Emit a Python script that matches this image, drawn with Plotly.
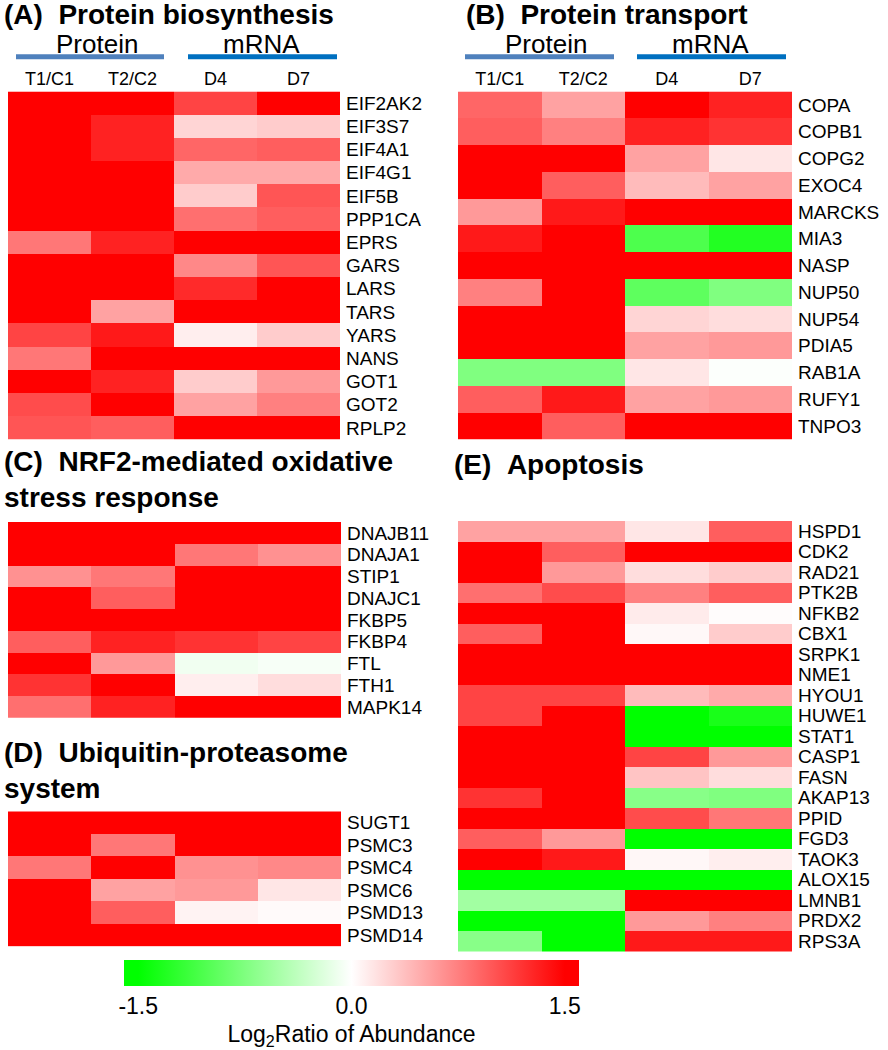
import plotly.graph_objects as go

# columns shared by every panel
cols = ["T1/C1", "T2/C2", "D4", "D7"]

# (A) Protein biosynthesis
genes_a = ["EIF2AK2", "EIF3S7", "EIF4A1", "EIF4G1", "EIF5B", "PPP1CA", "EPRS", "GARS",
           "LARS", "TARS", "YARS", "NANS", "GOT1", "GOT2", "RPLP2"]
vals_a = [
    [1.5, 1.5, 1.1, 1.5],
    [1.5, 1.3, 0.25, 0.3],
    [1.5, 1.3, 0.9, 0.95],
    [1.5, 1.5, 0.5, 0.5],
    [1.5, 1.5, 0.3, 1.0],
    [1.5, 1.5, 0.85, 0.95],
    [0.8, 1.3, 1.5, 1.5],
    [1.5, 1.5, 0.7, 1.0],
    [1.5, 1.5, 1.25, 1.5],
    [1.5, 0.55, 1.5, 1.5],
    [1.1, 1.35, 0.1, 0.3],
    [0.8, 1.5, 1.5, 1.5],
    [1.5, 1.3, 0.3, 0.6],
    [1.05, 1.5, 0.55, 0.75],
    [1.0, 0.95, 1.5, 1.5],
]

# (B) Protein transport
genes_b = ["COPA", "COPB1", "COPG2", "EXOC4", "MARCKS", "MIA3", "NASP", "NUP50", "NUP54",
           "PDIA5", "RAB1A", "RUFY1", "TNPO3"]
vals_b = [
    [0.9, 0.55, 1.5, 1.3],
    [0.95, 0.75, 1.3, 1.2],
    [1.5, 1.5, 0.55, 0.15],
    [1.5, 0.95, 0.4, 0.55],
    [0.6, 1.35, 1.5, 1.5],
    [1.35, 1.5, -1.05, -1.3],
    [1.5, 1.5, 1.5, 1.5],
    [0.75, 1.5, -0.95, -0.75],
    [1.5, 1.5, 0.25, 0.2],
    [1.5, 1.5, 0.55, 0.6],
    [-0.75, -0.75, 0.15, -0.02],
    [0.95, 1.35, 0.55, 0.6],
    [1.5, 0.95, 1.5, 1.5],
]

# (C) NRF2-mediated oxidative stress response
genes_c = ["DNAJB11", "DNAJA1", "STIP1", "DNAJC1", "FKBP5", "FKBP4", "FTL", "FTH1", "MAPK14"]
vals_c = [
    [1.5, 1.5, 1.5, 1.5],
    [1.5, 1.5, 0.8, 0.65],
    [0.65, 0.8, 1.5, 1.5],
    [1.5, 0.95, 1.5, 1.5],
    [1.5, 1.5, 1.5, 1.5],
    [0.95, 1.3, 1.2, 1.1],
    [1.5, 0.6, -0.08, -0.05],
    [1.2, 1.5, 0.1, 0.2],
    [0.85, 1.3, 1.5, 1.5],
]

# (D) Ubiquitin-proteasome system
genes_d = ["SUGT1", "PSMC3", "PSMC4", "PSMC6", "PSMD13", "PSMD14"]
vals_d = [
    [1.5, 1.5, 1.5, 1.5],
    [1.5, 0.8, 1.5, 1.5],
    [0.8, 1.5, 0.65, 0.7],
    [1.5, 0.55, 0.6, 0.15],
    [1.5, 0.95, 0.07, 0.03],
    [1.5, 1.5, 1.5, 1.5],
]

# (E) Apoptosis
genes_e = ["HSPD1", "CDK2", "RAD21", "PTK2B", "NFKB2", "CBX1", "SRPK1", "NME1", "HYOU1",
           "HUWE1", "STAT1", "CASP1", "FASN", "AKAP13", "PPID", "FGD3", "TAOK3", "ALOX15",
           "LMNB1", "PRDX2", "RPS3A"]
vals_e = [
    [0.55, 0.55, 0.15, 0.95],
    [1.5, 0.95, 1.5, 1.5],
    [1.5, 0.6, 0.2, 0.3],
    [0.85, 1.05, 0.75, 0.95],
    [1.5, 1.5, 0.12, 0.02],
    [0.95, 1.5, 0.04, 0.3],
    [1.5, 1.5, 1.5, 1.5],
    [1.5, 1.5, 1.5, 1.5],
    [1.1, 1.1, 0.4, 0.5],
    [1.1, 1.5, -1.5, -1.35],
    [1.5, 1.5, -1.5, -1.5],
    [1.5, 1.5, 1.1, 0.6],
    [1.5, 1.5, 0.35, 0.2],
    [1.2, 1.5, -0.7, -0.75],
    [1.5, 1.5, 1.05, 0.8],
    [0.95, 0.6, -1.5, -1.5],
    [1.5, 1.35, 0.05, 0.1],
    [-1.5, -1.5, -1.5, -1.5],
    [-0.55, -0.55, 1.5, 1.5],
    [-1.5, -1.5, 0.6, 0.75],
    [-0.7, -1.5, 1.35, 1.35],
]

cbar_ticks = [-1.5, 0.0, 1.5]
cbar_ticktext = ["-1.5", "0.0", "1.5"]

W, H = 888, 1050
FONT = "Liberation Sans, Arial, sans-serif"


def fx(px):
    return px / W


def fy(py):
    return 1 - py / H


# pixel boxes (left, top, right, bottom) for each heatmap
panels = [
    dict(genes=genes_a, z=vals_a, box=(8, 92, 340, 442), top=True),
    dict(genes=genes_b, z=vals_b, box=(458, 92, 792, 442), top=True),
    dict(genes=genes_c, z=vals_c, box=(8, 525, 341, 722), top=False),
    dict(genes=genes_d, z=vals_d, box=(8, 816, 341, 952), top=False),
    dict(genes=genes_e, z=vals_e, box=(458, 524, 792, 957), top=False),
]

# saturate at +-1.5 but leave a bit of room on the bar ends
zr = 1.6
edge = (zr - 1.5) / (2 * zr)
cscale = [
    [0.0, "rgb(0,255,0)"],
    [edge, "rgb(0,255,0)"],
    [0.5, "rgb(255,255,255)"],
    [1 - edge, "rgb(255,0,0)"],
    [1.0, "rgb(255,0,0)"],
]

fig = go.Figure()

for i, p in enumerate(panels, start=1):
    x0, y0, x1, y1 = p["box"]
    sfx = "" if i == 1 else str(i)
    fig.add_trace(go.Heatmap(
        z=p["z"], x=cols, y=p["genes"],
        coloraxis="coloraxis",
        xaxis="x" + sfx, yaxis="y" + sfx,
    ))
    fig.update_layout({
        "xaxis" + sfx: dict(
            domain=[fx(x0), fx(x1)], anchor="y" + sfx, side="top",
            showticklabels=p["top"], ticks="", showgrid=False, zeroline=False,
            tickmode="array", tickvals=cols, ticktext=cols,
            tickfont=dict(size=18, color="black", family=FONT),
            ticklabelstandoff=2,
        ),
        "yaxis" + sfx: dict(
            domain=[fy(y1), fy(y0)], anchor="x" + sfx, side="right",
            autorange="reversed", ticks="", showgrid=False, zeroline=False,
            tickmode="array", tickvals=p["genes"], ticktext=p["genes"],
            tickfont=dict(size=19, color="black", family=FONT),
            ticklabelstandoff=5,
        ),
    })

# panel titles
titles = [
    ("(A)\u00a0\u00a0Protein biosynthesis", 3, 15),
    ("(B)\u00a0\u00a0Protein transport", 465, 15),
    ("(C)\u00a0\u00a0NRF2-mediated oxidative<br>stress response", 3, 482),
    ("(D)\u00a0\u00a0Ubiquitin-proteasome<br>system", 3, 775),
    ("(E)\u00a0\u00a0Apoptosis", 453, 467),
]
for txt, x, y in titles:
    fig.add_annotation(
        text="<b>" + txt + "</b>", xref="paper", yref="paper",
        x=fx(x), y=fy(y), xanchor="left", yanchor="middle", align="left",
        showarrow=False, borderpad=0, font=dict(size=28, color="black", family=FONT),
    )

# Protein / mRNA headers with blue bars
headers = [
    ("Protein", 97, 16, 164, "rgb(79,129,189)"),
    ("mRNA", 261, 188, 337, "rgb(0,112,192)"),
    ("Protein", 546, 465, 614, "rgb(79,129,189)"),
    ("mRNA", 710, 637, 786, "rgb(0,112,192)"),
]
for txt, cx, lx0, lx1, col in headers:
    fig.add_annotation(
        text=txt, xref="paper", yref="paper", x=fx(cx), y=fy(44),
        xanchor="center", yanchor="middle", showarrow=False, borderpad=0,
        font=dict(size=26, color="black", family=FONT),
    )
    fig.add_shape(
        type="line", xref="paper", yref="paper",
        x0=fx(lx0), x1=fx(lx1), y0=fy(57), y1=fy(57),
        line=dict(color=col, width=5),
    )

bar_l, bar_r, bar_t = 124, 579, 966
fig.update_layout(
    width=W, height=H,
    margin=dict(l=0, r=0, t=0, b=0),
    paper_bgcolor="white", plot_bgcolor="white",
    font=dict(family=FONT, color="black"),
    coloraxis=dict(
        colorscale=cscale, cmin=-zr, cmax=zr,
        colorbar=dict(
            orientation="h",
            x=fx((bar_l + bar_r) / 2), xanchor="center",
            y=fy(bar_t), yanchor="top",
            len=bar_r - bar_l, lenmode="pixels",
            thickness=26, outlinewidth=0, xpad=0, ypad=0,
            tickvals=cbar_ticks, ticktext=cbar_ticktext, ticks="",
            tickfont=dict(size=23, color="black", family=FONT),
            title=dict(text="Log<sub>2</sub>Ratio of Abundance", side="bottom",
                       font=dict(size=23, color="black", family=FONT)),
        ),
    ),
)

# drop the default body margin so the figure fills the window from its corner
fig.write_html("out.html", config={"displayModeBar": False},
               post_script="document.body.style.margin='0px';")
